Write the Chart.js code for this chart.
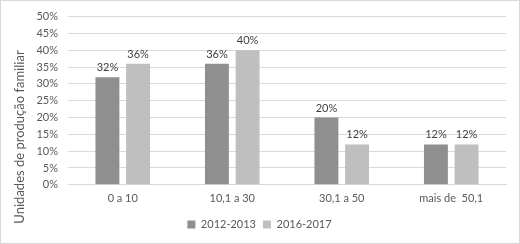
<!DOCTYPE html>
<html>
<head>
<meta charset="utf-8">
<script src="https://cdn.jsdelivr.net/npm/chart.js@4/dist/chart.umd.min.js"></script>
<style>
  html, body { margin: 0; padding: 0; background: #fff; }
  #wrap { position: relative; width: 520px; height: 244px; }
</style>
</head>
<body>
<div id="wrap"><canvas id="chart" width="520" height="244"></canvas></div>
<script>
// dados
const categorias = ["0 a 10", "10,1 a 30", "30,1 a 50", "mais de  50,1"];
const serie2012 = [32, 36, 20, 12];
const serie2016 = [36, 40, 12, 12];
const rotulos = ["2012-2013", "2016-2017"];
const tituloY = "Unidades de produção familiar";

const fonte = "Lato, 'Open Sans', sans-serif";

// borda cinza em volta do gráfico + título do eixo y (centrado na altura toda)
const borda = {
    id: "borda",
    beforeDraw(chart) {
        const ctx = chart.ctx;
        ctx.save();
        ctx.fillStyle = "#fff";
        ctx.fillRect(0, 0, chart.width, chart.height);
        ctx.strokeStyle = "#d9d9d9";
        ctx.lineWidth = 1;
        ctx.strokeRect(0.5, 0.5, chart.width - 1, chart.height - 1);
        ctx.restore();
    },
    afterDraw(chart) {
        const ctx = chart.ctx;
        ctx.save();
        ctx.translate(20, 137);
        ctx.rotate(-Math.PI / 2);
        ctx.font = "13px " + fonte;
        ctx.fillStyle = "#595959";
        ctx.textAlign = "center";
        ctx.textBaseline = "middle";
        ctx.fillText(tituloY, 0, 0);
        ctx.restore();
    }
};

// rótulos de dados acima das barras
const rotulosDados = {
    id: "rotulosDados",
    afterDatasetsDraw(chart) {
        const ctx = chart.ctx;
        ctx.save();
        ctx.font = "11px " + fonte;
        ctx.fillStyle = "#404040";
        ctx.textAlign = "center";
        ctx.textBaseline = "bottom";
        chart.data.datasets.forEach((ds, i) => {
            chart.getDatasetMeta(i).data.forEach((bar, j) => {
                ctx.fillText(ds.data[j] + "%", bar.x, bar.y - 4);
            });
        });
        ctx.restore();
    }
};

const ctx = document.getElementById("chart").getContext("2d");
new Chart(ctx, {
    type: "bar",
    data: {
        labels: categorias,
        datasets: [
            { label: rotulos[0], data: serie2012, backgroundColor: "#8f8f8f" },
            { label: rotulos[1], data: serie2016, backgroundColor: "#bfbfbf" }
        ]
    },
    options: {
        responsive: false,
        animation: false,
        layout: { padding: { left: 13, right: 14, top: 4, bottom: 4 } },
        datasets: {
            bar: { categoryPercentage: 0.56, barPercentage: 0.78 }
        },
        scales: {
            x: {
                grid: { display: false, drawTicks: false },
                border: { color: "#d9d9d9" },
                ticks: { color: "#595959", font: { family: fonte, size: 11 }, padding: 7 }
            },
            y: {
                min: 0,
                max: 50,
                afterFit(scale) { scale.width = 55; },
                grid: { color: "#d9d9d9", drawTicks: false },
                border: { display: false },
                ticks: {
                    stepSize: 5,
                    autoSkip: false,
                    color: "#595959",
                    padding: 10,
                    font: { family: fonte, size: 11 },
                    callback: v => v + "%"
                }
            }
        },
        plugins: {
            legend: {
                position: "bottom",
                labels: {
                    color: "#595959",
                    font: { family: fonte, size: 11 },
                    boxWidth: 8,
                    boxHeight: 8,
                    padding: 7
                }
            },
            tooltip: { enabled: false }
        }
    },
    plugins: [borda, rotulosDados]
});
</script>
</body>
</html>
